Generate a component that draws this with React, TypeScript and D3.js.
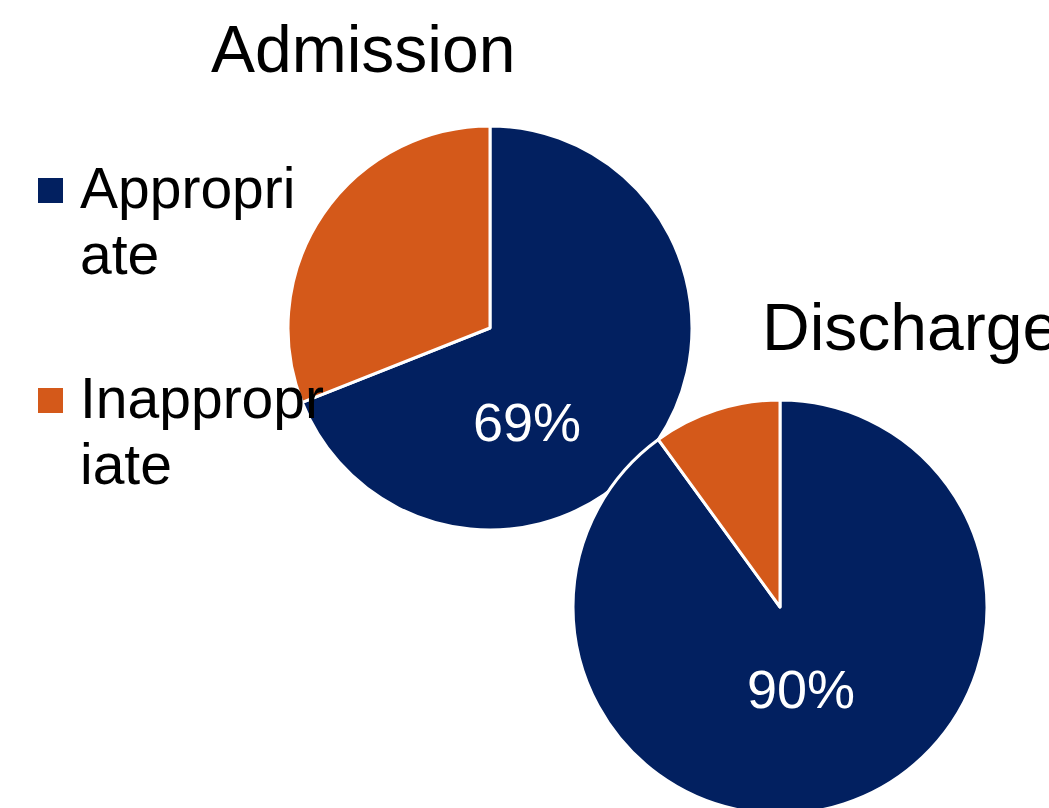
import React from "react";
import * as d3 from "d3";

const categories = ["Appropriate", "Inappropriate"];
const admissionValues = [69, 31];
const dischargeValues = [90, 10];
const pieTitles = ["Admission", "Discharge"];
const legendLines = [["Appropri", "ate"], ["Inappropr", "iate"]];
const colors = ["#022060", "#D4591A"];

const W = 1049;
const H = 808;
const FONT = "'Liberation Sans', Arial, sans-serif";

const pies = [
  { title: pieTitles[0], values: admissionValues, cx: 490, cy: 328, r: 202, tx: 211, ty: 72, lx: 527, ly: 441 },
  { title: pieTitles[1], values: dischargeValues, cx: 780, cy: 607, r: 207, tx: 762, ty: 350, lx: 801, ly: 708 },
];

export default function App() {
  const pieGen = d3.pie<number>().sort(null).value((d) => d);
  return (
    <svg width={W} height={H} style={{ position: "absolute", left: 0, top: 0, background: "#fff" }}>
      {pies.map((p, i) => {
        const arcs = pieGen(p.values);
        const arc = d3.arc<d3.PieArcDatum<number>>().innerRadius(0).outerRadius(p.r);
        return (
          <g key={i}>
            <g transform={`translate(${p.cx},${p.cy})`}>
              {arcs.map((a, j) => (
                <path key={j} d={arc(a) || ""} fill={colors[j]} stroke="#fff" strokeWidth={3} strokeLinejoin="round" />
              ))}
            </g>
            <text x={p.lx} y={p.ly} fill="#fff" fontFamily={FONT} fontSize={54} textAnchor="middle">
              {d3.format(".0f")(p.values[0]) + "%"}
            </text>
            <text x={p.tx} y={p.ty} fill="#000" fontFamily={FONT} fontSize={66}>
              {p.title}
            </text>
          </g>
        );
      })}
      {categories.map((c, i) => {
        const y0 = 178 + i * 210;
        return (
          <g key={c}>
            <rect x={38} y={y0} width={25} height={25} fill={colors[i]} />
            {legendLines[i].map((t, k) => (
              <text key={k} x={80} y={y0 + 30 + k * 66} fill="#000" fontFamily={FONT} fontSize={57}>
                {t}
              </text>
            ))}
          </g>
        );
      })}
    </svg>
  );
}
